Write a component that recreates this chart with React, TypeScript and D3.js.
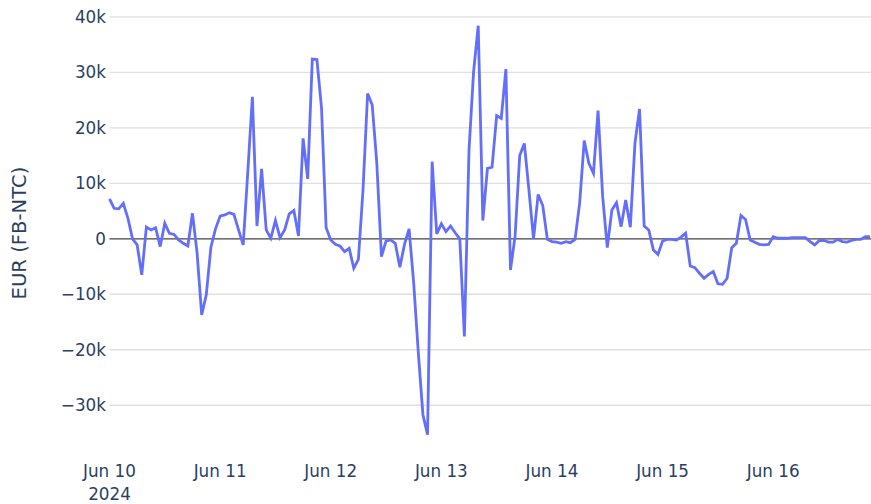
import * as d3 from "d3";

// hourly FB-NTC difference in EUR, one array per day (Jun 10 00:00 onward)
const jun10 = [7200, 5500, 5400, 6400, 3700, 0, -1100, -6500, 2100, 1600, 2000, -1400, 2800, 1000, 800, -200, -800, -1300, 4600, -2500, -13700, -10100, -1500, 1800];
const jun11 = [4100, 4300, 4700, 4400, 1600, -1100, 12000, 25600, 2300, 12600, 1600, 100, 3300, 200, 1600, 4500, 5100, 500, 18100, 10800, 32400, 32300, 23600, 2000];
const jun12 = [-200, -1000, -1300, -2300, -1700, -5300, -3700, 8800, 26200, 24100, 13600, -3200, -400, -200, -800, -5100, -1000, 1800, -8000, -20500, -31700, -35300, 13900, 900];
const jun13 = [2700, 1300, 2300, 1100, 0, -17600, 16000, 30200, 38400, 3300, 12700, 12900, 22200, 21700, 30600, -5600, 500, 15000, 17200, 8800, 0, 8000, 6000, -100];
const jun14 = [-500, -600, -800, -500, -700, -100, 6400, 17700, 13600, 11800, 23100, 7600, -1600, 5200, 6500, 2200, 7000, 2100, 17200, 23400, 2300, 1600, -2000, -2800];
const jun15 = [-400, -100, -100, -200, 300, 1000, -4900, -5200, -6200, -7100, -6400, -5900, -8100, -8200, -7100, -1600, -800, 4200, 3500, -200, -600, -1000, -1100, -1000];
const jun16 = [400, 100, 100, 100, 200, 200, 200, 200, -500, -1100, -300, -300, -600, -600, -100, -500, -600, -300, -100, -100, 400, 400];

const yTicks = [-30000, -20000, -10000, 0, 10000, 20000, 30000, 40000];
const xTickDays = [10, 11, 12, 13, 14, 15, 16];

const W = 871;
const H = 504;
const FONT = "'DejaVu Sans', Verdana, sans-serif";
const TEXT = "#2a3f5f";
const LINE = "#636efa";

const values = [...jun10, ...jun11, ...jun12, ...jun13, ...jun14, ...jun15, ...jun16];
const start = new Date(2024, 5, 10, 0, 0);
const data = values.map((v, i) => ({ t: d3.timeHour.offset(start, i), v }));

const x = d3
  .scaleTime()
  .domain([data[0].t, data[data.length - 1].t])
  .range([109.5, 870]);
const y = d3.scaleLinear().domain([-39500, 41600]).range([458, 8]);

const line = d3
  .line<{ t: Date; v: number }>()
  .x((d) => x(d.t))
  .y((d) => y(d.v));

const fmtY = (v: number) => (v === 0 ? "0" : `${v < 0 ? "\u2212" : ""}${Math.abs(v) / 1000}k`);

export default function App() {
  const [x0, x1] = x.range();
  return (
    <svg width={W} height={H} style={{ position: "absolute", left: 0, top: 0, background: "#fff" }}>
      {/* horizontal grid */}
      {yTicks
        .filter((t) => t !== 0)
        .map((t) => (
          <line key={t} x1={x0} x2={x1 + 1} y1={y(t)} y2={y(t)} stroke="#e0e0e0" strokeWidth={1.4} />
        ))}
      <line x1={x0} x2={x1 + 1} y1={y(0)} y2={y(0)} stroke="#444" strokeWidth={1.4} />

      <path d={line(data) ?? ""} fill="none" stroke={LINE} strokeWidth={2.8} />

      {/* y tick labels */}
      {yTicks.map((t) => (
        <text
          key={t}
          x={106}
          y={y(t)}
          dy="0.36em"
          textAnchor="end"
          fontFamily={FONT}
          fontSize={16.8}
          fill={TEXT}
        >
          {fmtY(t)}
        </text>
      ))}

      {/* x tick labels */}
      {xTickDays.map((d, i) => {
        const tx = x(new Date(2024, 5, d));
        return (
          <text key={d} x={tx} y={477} textAnchor="middle" fontFamily={FONT} fontSize={16.8} fill={TEXT}>
            {`Jun ${d}`}
            {i === 0 && (
              <tspan x={tx} dy={22.5}>
                2024
              </tspan>
            )}
          </text>
        );
      })}

      <text
        transform={`translate(26, ${(y.range()[0] + y.range()[1]) / 2}) rotate(-90)`}
        textAnchor="middle"
        fontFamily={FONT}
        fontSize={19.6}
        fill={TEXT}
      >
        EUR (FB-NTC)
      </text>
    </svg>
  );
}
